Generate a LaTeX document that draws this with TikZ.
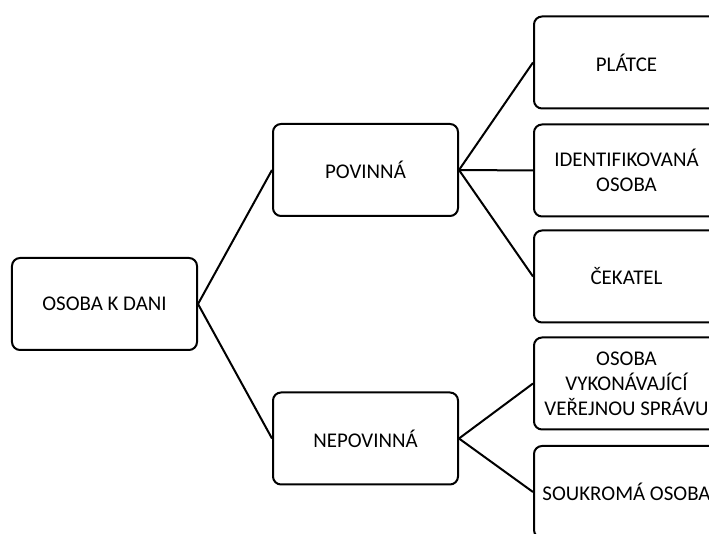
\documentclass[tikz,border=0pt]{standalone}
\usepackage{fontspec}
\setmainfont{Carlito}
\usepackage{tikz}
\usetikzlibrary{positioning}

\begin{document}
\begin{tikzpicture}[x=1bp,y=1bp,
    taxbox/.style={draw,line width=2bp,rounded corners=8bp,
      minimum width=185bp,minimum height=92bp,align=center,
      font=\fontsize{21}{25}\selectfont},
    link/.style={line width=2bp}]
  %% frame of the picture
  \useasboundingbox (0,0) rectangle (709,534);
  \clip (0,0) rectangle (709,534);

  % root
  \node[taxbox] (osoba) at (104.5,230) {OSOBA K DANI};

  % second level
  \node[taxbox] (povinna) at (365.5,364) {POVINNÁ};
  \node[taxbox] (nepovinna) at (365.5,95.5) {NEPOVINNÁ};

  % third level
  \node[taxbox] (platce) at (626.5,471.5) {PLÁTCE};
  \node[taxbox] (identif) at (626.5,363.5) {IDENTIFIKOVANÁ\\OSOBA};
  \node[taxbox] (cekatel) at (626.5,257.5) {ČEKATEL};
  \node[taxbox] (verejna) at (626.5,150.5) {OSOBA\\VYKONÁVAJÍCÍ\\VEŘEJNOU SPRÁVU};
  \node[taxbox] (soukroma) at (626.5,42) {SOUKROMÁ OSOBA};

  %% connectors
  \draw[link] (osoba.east) -- (povinna.west);
  \draw[link] (osoba.east) -- (nepovinna.west);

  \draw[link] (povinna.east) -- (platce.west);
  \draw[link] (povinna.east) -- (identif.west);
  \draw[link] (povinna.east) -- (cekatel.west);

  \draw[link] (nepovinna.east) -- (verejna.west);
  \draw[link] (nepovinna.east) -- (soukroma.west);
\end{tikzpicture}
\end{document}
